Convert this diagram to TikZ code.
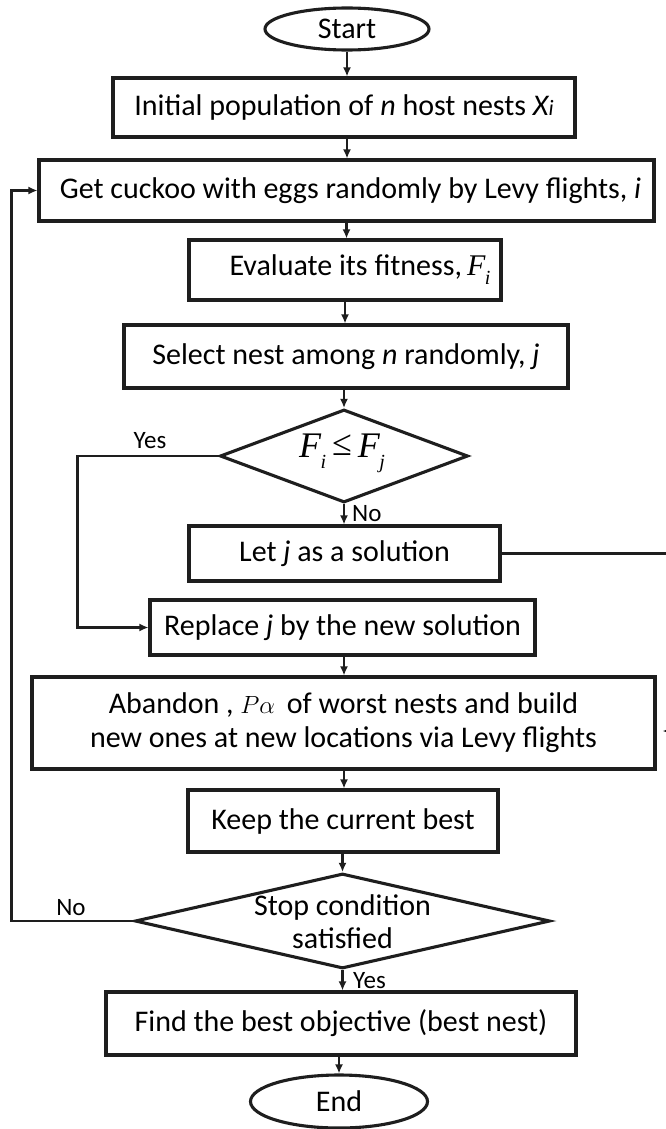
\documentclass[tikz,border=0pt]{standalone}
\usepackage{fontspec}
\setmainfont{Carlito}
\newfontfamily\tnr{Liberation Serif}
\usetikzlibrary{shapes.geometric,arrows.meta}
\definecolor{ink}{HTML}{1E1E1E}
\newcommand{\FF}[1]{{\tnr\itshape F\kern-0.5pt\raisebox{-0.3em}{\fontsize{20}{20}\selectfont #1}}}
\begin{document}
\begin{tikzpicture}[x=1pt,y=-1pt,
  base/.style={draw=ink,line width=3.1pt,inner sep=0pt,align=center,
    font=\fontsize{30}{34}\selectfont,text=black},
  box/.style={base,rectangle},
  term/.style={base,ellipse},
  dec/.style={base,diamond},
  txt/.style={inner sep=0pt,align=center,font=\fontsize{30}{33}\selectfont},
  lab/.style={inner sep=0pt,font=\fontsize{25}{25}\selectfont},
  arr/.style={draw=ink,line width=2.5pt,-{Latex[length=9pt,width=8pt]}},
  ln/.style={draw=ink,line width=2.5pt}]
\useasboundingbox (0,0) rectangle (666,1129);
\clip (0,0) rectangle (666,1129);
\fill[white] (0,0) rectangle (666,1129);

\node[term,minimum width=164pt,minimum height=42pt] (start) at (347,29) {Start};
\node[box,minimum width=462pt,minimum height=59pt] (init) at (344,107.5)
  {Initial population of \textit{n} host nests \textit{X{\fontsize{22}{22}\selectfont i}}};
\node[box,minimum width=615pt,minimum height=61pt] (get) at (346.5,190.5)
  {\hspace*{8pt}Get cuckoo with eggs randomly by Levy flights, \textit{i}};
\node[box,minimum width=312pt,minimum height=60pt] (eval) at (345,270)
  {\hspace*{30pt}Evaluate its fitness,\,\FF{i}};
\node[box,minimum width=444pt,minimum height=63pt] (sel) at (346,356.5)
  {Select nest among \textit{n} randomly, \textit{j}};
\node[dec,minimum width=248pt,minimum height=93pt] (d1) at (344,456) {};
\node[txt,font=\fontsize{36}{36}\selectfont] (d1t) at (342,453)
  {\FF{i}\,{\tnr\raisebox{0.05em}{≤}}\,\FF{j}};
\node[box,minimum width=311pt,minimum height=55pt] (let) at (344.5,553.5)
  {Let \textit{j} as a solution};
\node[box,minimum width=385pt,minimum height=55pt] (rep) at (342.5,627.5)
  {Replace \textit{j} by the new solution};
\node[box,minimum width=623pt,minimum height=92pt] (ab) at (343.5,723)
  {Abandon , {\fontsize{34}{34}\selectfont$P\alpha$}\, of worst nests and build\\new ones at new locations via Levy flights};
\node[box,minimum width=310pt,minimum height=62pt] (keep) at (343,821)
  {Keep the current best};
\node[dec,minimum width=415pt,minimum height=95pt] (d2) at (342.5,921) {};
\node[txt] (d2t) at (342.5,922) {Stop condition\\satisfied};
\node[box,minimum width=470pt,minimum height=63pt] (find) at (341,1023.5)
  {Find the best objective (best nest)};
\node[term,minimum width=177pt,minimum height=53pt] (end) at (339,1101.5) {End};

% main flow
\draw[arr] (start.south) -- (start.south |- init.north);
\draw[arr] (init.south -| start.south) -- (start.south |- get.north);
\draw[arr] (get.south) -- (get.south |- eval.north);
\draw[arr] (eval.south) -- (eval.south |- sel.north);
\draw[arr] (sel.south -| d1.north) -- (d1.north);
\draw[arr] (d1.south) -- (d1.south |- let.north);
\draw[arr] (rep.south -| d1.south) -- (d1.south |- ab.north);
\draw[arr] (ab.south -| d1.south) -- (d1.south |- keep.north);
\draw[arr] (keep.south -| d2.north) -- (d2.north);
\draw[arr] (d2.south) -- (d2.south |- find.north);
\draw[arr] (find.south -| end.north) -- (end.north);

% yes branch of first decision
\draw[arr] (d1.west) -- ++(-141,0) |- (rep.west);
\node[lab] (yes1) at (150,441) {Yes};
\node[lab,anchor=west] (no1) at (352,514) {No};

% let j -> abandon (off the right edge)
\draw[arr] (let.east) -- ++(200,0) |- ([xshift=6pt,yshift=-8pt]ab.east);

% stop condition loop
\draw[arr] (d2.west) -- ++(-122,0) |- (get.west);
\node[lab] (no2) at (71,908) {No};
\node[lab,anchor=west] (yes2) at (353,981) {Yes};
\end{tikzpicture}
\end{document}
